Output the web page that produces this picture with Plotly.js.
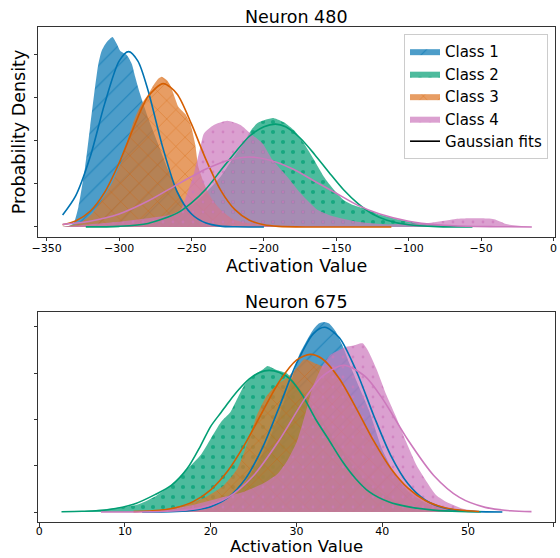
<!DOCTYPE html>
<html>
<head>
<meta charset="utf-8">
<script src="https://cdn.plot.ly/plotly-3.0.1.min.js"></script>
<style>html,body{margin:0;padding:0;background:#fff;}#chart{width:560px;height:558px;}</style>
</head>
<body>
<div id="chart"></div>
<script>
// ---------- Neuron 480 (top) : KDE curves ----------
const n480_c1_x = [-339.2, -335, -331.5, -328.1, -323.5, -320, -316.6, -314.3, -312, -308.5, -304.6, -301.6, -299.3, -294.7, -291.3, -288.9, -285.5, -279.7, -272.8, -265.9, -259, -252, -245, -235, -220, -200];
const n480_c1_y = [0, 0.0001, 0.0004, 0.0023, 0.0069, 0.0116, 0.0162, 0.0189, 0.0204, 0.0214, 0.0220, 0.0212, 0.0204, 0.0199, 0.0189, 0.0174, 0.0154, 0.0125, 0.0095, 0.0065, 0.0040, 0.0020, 0.0008, 0.0002, 0.00003, 0];

const n480_c2_x = [-323, -300, -280, -260, -250, -240, -230, -222, -215, -208, -204.6, -199, -193.1, -186, -179.2, -172.4, -165.5, -158.6, -151.7, -144.8, -137.8, -128.6, -119.4, -110.2, -105.6, -96, -85, -73, -56];
const n480_c2_y = [0, 0.0001, 0.0005, 0.0017, 0.0025, 0.0040, 0.0058, 0.0078, 0.0095, 0.0114, 0.0120, 0.0124, 0.0126, 0.0121, 0.0112, 0.0097, 0.0078, 0.0058, 0.0043, 0.0031, 0.0025, 0.0020, 0.0014, 0.0010, 0.0008, 0.0005, 0.0003, 0.0002, 0];

const n480_c3_x = [-339.4, -332.7, -325.8, -318.9, -312, -305.1, -298.1, -293.5, -288.9, -284.3, -279.7, -276.3, -272.8, -270.5, -267.1, -264.7, -262.4, -259, -254.4, -250.9, -247.5, -245.2, -240, -235, -230, -220, -200, -150, -112];
const n480_c3_y = [0, 0.0002, 0.0006, 0.0015, 0.0031, 0.0050, 0.0077, 0.0104, 0.0127, 0.0143, 0.0154, 0.0164, 0.0172, 0.0174, 0.0170, 0.0164, 0.0154, 0.0139, 0.0131, 0.0120, 0.0096, 0.0069, 0.0045, 0.0030, 0.0020, 0.0008, 0.0002, 0.00003, 0];

const n480_c4_x = [-339, -320, -300, -280, -265, -257.6, -253, -248.4, -243.8, -241.5, -234.6, -225.3, -216.1, -209.2, -201.1, -194.2, -183.9, -174.7, -163.1, -151.7, -135.5, -115, -100.9, -84.8, -68.7, -59.5, -50.3, -41.1, -31.8, -14.5];
const n480_c4_y = [0, 0.0003, 0.0006, 0.0010, 0.0014, 0.0020, 0.0039, 0.0062, 0.0093, 0.0108, 0.0118, 0.0123, 0.0118, 0.0108, 0.0097, 0.0078, 0.0058, 0.0039, 0.0020, 0.0012, 0.0006, 0.0003, 0.0004, 0.0005, 0.0009, 0.0010, 0.0010, 0.0009, 0.0003, 0];

// ---------- Neuron 480 : Gaussian fits ----------
const n480_f1_x = [-339, -330, -320, -310, -300, -293.5, -287, -280, -270, -260, -250, -240, -230, -220, -200];
const n480_f1_y = [0.00138, 0.0036, 0.0081, 0.01425, 0.0192, 0.0203, 0.0192, 0.0158, 0.0093, 0.0041, 0.0015, 0.00045, 0.0001, 0.00002, 0];

const n480_f2_x = [-323, -300, -280, -260, -250, -240, -230, -220, -210, -200, -192, -185, -175, -165, -155, -145, -135, -125, -115, -100, -80, -56];
const n480_f2_y = [0.00001, 0.00007, 0.00041, 0.0016, 0.0028, 0.0044, 0.0065, 0.0086, 0.0105, 0.0116, 0.0119, 0.0116, 0.0103, 0.0084, 0.0063, 0.0043, 0.0027, 0.0015, 0.00079, 0.00025, 0.00004, 0];

const n480_f3_x = [-339, -330, -320, -310, -300, -290, -280, -269.5, -260, -250, -240, -230, -220, -210, -200, -190, -170, -112];
const n480_f3_y = [0.00025, 0.00069, 0.00182, 0.0040, 0.0074, 0.0115, 0.0151, 0.0166, 0.0154, 0.0119, 0.0078, 0.0043, 0.0020, 0.00077, 0.00025, 0.00007, 0, 0];

const n480_f4_x = [-339, -320, -300, -280, -260, -240, -225, -210, -195, -180, -165, -150, -135, -120, -100, -80, -60, -40, -15];
const n480_f4_y = [0.0003, 0.00067, 0.0015, 0.0030, 0.0049, 0.0067, 0.0077, 0.0081, 0.0077, 0.0067, 0.0053, 0.0039, 0.0025, 0.0015, 0.00067, 0.00025, 0.00008, 0.00003, 0];

// ---------- Neuron 675 (bottom) : KDE curves ----------
const n675_c1_x = [12, 16, 20, 23, 26, 28, 29.5, 30.3, 31.1, 31.9, 32.6, 33.2, 33.8, 34.6, 35.35, 36.1, 36.9, 38.45, 40, 41.6, 43, 45, 47, 50, 54];
const n675_c1_y = [0, 0.0003, 0.0020, 0.0080, 0.0250, 0.0420, 0.0580, 0.0677, 0.0734, 0.0785, 0.0814, 0.0821, 0.0814, 0.0778, 0.0720, 0.0648, 0.0575, 0.0440, 0.0270, 0.0155, 0.0090, 0.0040, 0.0015, 0.0003, 0];

const n675_c2_x = [2.6, 5, 7.6, 10, 11.5, 13.4, 15.35, 17.3, 18.8, 20, 21.2, 22.3, 23.1, 23.9, 25, 26.2, 26.6, 27.8, 28.9, 30, 32, 34, 36, 38, 40, 42, 45, 48, 51.2];
const n675_c2_y = [0, 0.0004, 0.0012, 0.0022, 0.0032, 0.0065, 0.0115, 0.0187, 0.0245, 0.0317, 0.0389, 0.0432, 0.0490, 0.0547, 0.0590, 0.0619, 0.0631, 0.0612, 0.0598, 0.0550, 0.0450, 0.0340, 0.0230, 0.0140, 0.0080, 0.0040, 0.0012, 0.0003, 0];

const n675_c3_x = [11, 14, 17, 19.2, 21.5, 23.1, 23.7, 24.5, 25.4, 26.5, 27.7, 28.9, 30.1, 30.9, 31.5, 32.3, 33, 33.8, 35, 36, 37, 38, 39, 40, 41, 42, 43, 45, 47, 49, 51.3];
const n675_c3_y = [0, 0.0008, 0.0030, 0.0060, 0.0115, 0.0187, 0.0240, 0.0320, 0.0420, 0.0500, 0.0550, 0.0580, 0.0625, 0.0660, 0.0655, 0.0640, 0.0630, 0.0626, 0.0580, 0.0520, 0.0450, 0.0380, 0.0310, 0.0250, 0.0190, 0.0140, 0.0100, 0.0045, 0.0018, 0.0006, 0];

const n675_c4_x = [7.2, 11.5, 15.35, 18.4, 21.5, 23.9, 26.2, 27.8, 28.9, 30, 31, 31.9, 33, 34, 35, 35.8, 36.5, 37.7, 38.3, 39.3, 40.5, 41.7, 42.8, 44, 45.2, 46.3, 47.5, 49.4, 51.3, 53.6, 57.4];
const n675_c4_y = [0, 0.0004, 0.0013, 0.0035, 0.0065, 0.0088, 0.0125, 0.0165, 0.0220, 0.0300, 0.0420, 0.0540, 0.0630, 0.0680, 0.0700, 0.0714, 0.0718, 0.0729, 0.0700, 0.0620, 0.0504, 0.0403, 0.0302, 0.0202, 0.0130, 0.0072, 0.0043, 0.0014, 0.0004, 0.0001, 0];

// ---------- Neuron 675 : Gaussian fits ----------
const n675_f1_x = [12, 14, 16, 18, 20, 22, 24, 26, 28, 30, 32, 33.3, 35, 37, 39, 41, 43, 45, 47, 49, 51, 54];
const n675_f1_y = [0, 0.00005, 0.0002, 0.00074, 0.0023, 0.0062, 0.0141, 0.0275, 0.0455, 0.0642, 0.0772, 0.0798, 0.0753, 0.0607, 0.0417, 0.0244, 0.0122, 0.0052, 0.0019, 0.00058, 0.00015, 0.00001];

const n675_f2_x = [2.6, 5, 8, 11, 13.5, 15.4, 17.3, 18.8, 20, 21.2, 22.2, 23.3, 24.5, 25.7, 26.8, 28, 29.2, 30.7, 32.2, 33.8, 35.4, 36.9, 38.45, 40.8, 43.1, 46, 49, 51.5];
const n675_f2_y = [0.0001, 0.0003, 0.0010, 0.0033, 0.0075, 0.0115, 0.0190, 0.0285, 0.0370, 0.0430, 0.0480, 0.0530, 0.0575, 0.0603, 0.0612, 0.0603, 0.0576, 0.0504, 0.0403, 0.0310, 0.0216, 0.0144, 0.0088, 0.0043, 0.0022, 0.0008, 0.0002, 0.0001];

const n675_f3_x = [11, 14, 16, 18, 20, 22, 24, 26, 28, 30, 31.6, 33, 35, 37, 39, 41, 43, 45, 47, 49, 51.3];
const n675_f3_y = [0.00015, 0.00076, 0.00198, 0.0046, 0.0096, 0.0178, 0.0294, 0.0431, 0.0564, 0.0656, 0.0681, 0.0662, 0.0576, 0.0446, 0.0307, 0.0188, 0.0103, 0.0050, 0.0022, 0.00083, 0.00024];

const n675_f4_x = [7.2, 10, 13, 16, 19, 22, 25, 28, 31, 33, 35.5, 38, 40, 43, 46, 49, 52, 55, 57.4];
const n675_f4_y = [0, 0.00002, 0.0001, 0.00052, 0.0020, 0.0063, 0.0158, 0.0311, 0.0491, 0.0586, 0.0634, 0.0586, 0.0491, 0.0311, 0.0158, 0.0063, 0.0020, 0.00052, 0.00015];

// ---------- labels / ticks ----------
const classNames = ['Class 1', 'Class 2', 'Class 3', 'Class 4'];
const fitLabel = 'Gaussian fits';
const panelTitles = ['Neuron 480', 'Neuron 675'];
const xLabel = 'Activation Value';
const yLabel = 'Probability Density';
const topXTicks = [-350, -300, -250, -200, -150, -100, -50, 0];
const botXTicks = [0, 10, 20, 30, 40, 50, 60];
const topYTicks = [0, 0.005, 0.01, 0.015, 0.02];
const botYTicks = [0, 0.02, 0.04, 0.06, 0.08];

// ---------- styling ----------
const lineCols = ['#0173b2', '#029e73', '#d55e00', '#cc78bc'];
const fillCols = ['rgba(1,115,178,0.7)', 'rgba(2,158,115,0.7)', 'rgba(222,120,40,0.72)', 'rgba(204,120,188,0.7)'];
const patterns = [
  {shape: '/', size: 14, solidity: 0.08, fgopacity: 0.6},
  {shape: '.', size: 10, solidity: 0.14, fgopacity: 0.7},
  {shape: 'x', size: 13, solidity: 0.08, fgopacity: 0.6},
  {shape: '.', size: 10, solidity: 0.06, fgopacity: 0.7}
];

const panelTop = {
  kx: [n480_c1_x, n480_c2_x, n480_c3_x, n480_c4_x],
  ky: [n480_c1_y, n480_c2_y, n480_c3_y, n480_c4_y],
  fx: [n480_f1_x, n480_f2_x, n480_f3_x, n480_f4_x],
  fy: [n480_f1_y, n480_f2_y, n480_f3_y, n480_f4_y]
};
const panelBot = {
  kx: [n675_c1_x, n675_c2_x, n675_c3_x, n675_c4_x],
  ky: [n675_c1_y, n675_c2_y, n675_c3_y, n675_c4_y],
  fx: [n675_f1_x, n675_f2_x, n675_f3_x, n675_f4_x],
  fy: [n675_f1_y, n675_f2_y, n675_f3_y, n675_f4_y]
};

const traces = [];
function addPanel(p, xa, ya, legend) {
  for (let i = 0; i < 4; i++) {
    traces.push({
      type: 'scatter', mode: 'lines', x: p.kx[i], y: p.ky[i], xaxis: xa, yaxis: ya,
      fill: 'tozeroy', fillcolor: fillCols[i],
      fillpattern: Object.assign({fillmode: 'overlay', fgcolor: lineCols[i], bgcolor: fillCols[i]}, patterns[i]),
      line: {width: 0, shape: 'spline', smoothing: 0.6, color: fillCols[i]},
      name: classNames[i], showlegend: legend, hoverinfo: 'skip'
    });
  }
  for (let i = 0; i < 4; i++) {
    traces.push({
      type: 'scatter', mode: 'lines', x: p.fx[i], y: p.fy[i], xaxis: xa, yaxis: ya,
      line: {width: 1.6, color: lineCols[i], shape: 'spline', smoothing: 0.8},
      showlegend: false, hoverinfo: 'skip'
    });
  }
}
addPanel(panelTop, 'x', 'y', true);
addPanel(panelBot, 'x2', 'y2', false);
traces.push({type: 'scatter', mode: 'lines', x: [null], y: [null], xaxis: 'x', yaxis: 'y',
  line: {color: '#000', width: 1.6}, name: fitLabel, showlegend: true});

const font = {family: 'DejaVu Sans, sans-serif', color: '#000'};
const axBase = {showgrid: false, zeroline: false, showline: true, mirror: true, linecolor: '#333', linewidth: 1,
  ticks: 'outside', ticklen: 3.5, tickwidth: 1, tickcolor: '#333', ticklabelstandoff: -3,
  tickfont: {family: font.family, size: 11, color: '#000'}};
const titleFont = {family: font.family, size: 17.5, color: '#000'};

const layout = {
  width: 560, height: 558,
  margin: {l: 38, r: 5, t: 27, b: 36},
  paper_bgcolor: '#fff', plot_bgcolor: '#fff',
  font: font,
  showlegend: true,
  legend: {x: 0.9865, y: 0.986, xanchor: 'right', yanchor: 'top', bgcolor: 'rgba(255,255,255,0.8)',
    bordercolor: '#cccccc', borderwidth: 1, font: {family: font.family, size: 15, color: '#000'},
    itemwidth: 30, tracegroupgap: 0, traceorder: 'normal'},
  xaxis: Object.assign({}, axBase, {domain: [0, 1], anchor: 'y', range: [-356, 1], tickvals: topXTicks}),
  yaxis: Object.assign({}, axBase, {domain: [0.5758, 1], anchor: 'x', range: [-0.00116, 0.02315], tickvals: topYTicks, showticklabels: false,
    title: {text: yLabel, font: titleFont, standoff: 3}}),
  xaxis2: Object.assign({}, axBase, {domain: [0, 1], anchor: 'y2', range: [-0.14, 60.14], tickvals: botXTicks, ticklabelstandoff: -5}),
  yaxis2: Object.assign({}, axBase, {domain: [0, 0.4242], anchor: 'x2', range: [-0.00432, 0.0864], tickvals: botYTicks, showticklabels: false}),
  annotations: [
    {text: panelTitles[0], xref: 'paper', yref: 'paper', x: 0.5, y: 1.0202, xanchor: 'center', yanchor: 'middle', showarrow: false,
     font: {family: font.family, size: 17.5, color: '#000'}},
    {text: panelTitles[1], xref: 'paper', yref: 'paper', x: 0.5, y: 0.4444, xanchor: 'center', yanchor: 'middle', showarrow: false,
     font: {family: font.family, size: 17.5, color: '#000'}},
    {text: xLabel, xref: 'paper', yref: 'paper', x: 0.5, y: 0.5172, xanchor: 'center', yanchor: 'middle', showarrow: false,
     font: titleFont},
    {text: xLabel, xref: 'paper', yref: 'paper', x: 0.5, y: -0.0717, xanchor: 'center', yanchor: 'bottom', showarrow: false,
     font: {family: font.family, size: 16.5, color: '#000'}, borderpad: 0}
  ]
};

Plotly.newPlot('chart', traces, layout, {displayModeBar: false, staticPlot: true});
</script>
</body>
</html>
